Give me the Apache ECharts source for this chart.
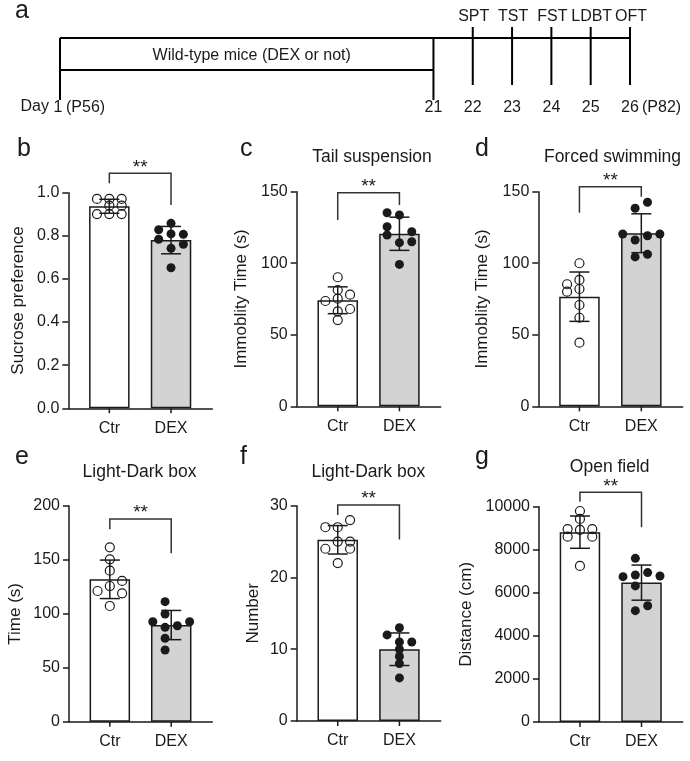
<!DOCTYPE html>
<html>
<head>
<meta charset="utf-8">
<style>
  html, body { margin: 0; padding: 0; background: #fff; }
  #chart { width: 690px; height: 761px; }
</style>
<script src="https://cdn.jsdelivr.net/npm/echarts@6/dist/echarts.min.js"></script>
</head>
<body>
<div id="chart"></div>
<script>
// ---- panel a: experimental timeline ----
const timelineDays = ['1', '21', '22', '23', '24', '25', '26'];
const timelineSlots = [0, 9.5, 10.5, 11.5, 12.5, 13.5, 14.5]; // schematic, not to scale
const testNames = ['SPT', 'TST', 'FST', 'LDBT', 'OFT'];
const treatmentLabel = 'Wild-type mice (DEX or not)';

const groups = ['Ctr', 'DEX'];

// ---- b: sucrose preference ----
const spCtr = [0.971, 0.971, 0.971, 0.94, 0.94, 0.901, 0.901, 0.901];
const spCtrCol = [-1, 0, 1, 0, 1, -1, 0, 1];
const spDex = [0.858, 0.828, 0.809, 0.807, 0.784, 0.761, 0.742, 0.652];
const spDexCol = [0, -1, 0, 1, -1, 1, 0, 0];
const spSig = [1.09, 1.044, 0.943]; // bracket top, left leg end, right leg end

// ---- c: tail suspension ----
const tstCtr = [90.2, 81.3, 78, 75.2, 73.6, 68, 66.4, 60.3];
const tstCtrCol = [0, 0, 1, 0, -1, 1, 0, 0];
const tstDex = [135.3, 133.7, 125.5, 122, 119.7, 115, 114.4, 99.2];
const tstDexCol = [-1, 0, -1, 1, -1, 1, 0, 0];
const tstSig = [149.3, 130.2, 140.7];

// ---- d: forced swimming ----
const fstCtr = [100, 88.3, 85.3, 82, 80.1, 70.8, 61.9, 44.5];
const fstCtrCol = [0, 0, -1, 0, -1, 0, 0, 0];
const fstDex = [142.6, 138.4, 120.4, 119.2, 120.4, 116.2, 106.2, 104.4];
const fstDexCol = [0.5, -0.5, -1.5, 0.5, 1.5, -0.5, 0.5, -0.5];
const fstSig = [153.5, 135.3, 146.5];

// ---- e: light-dark box, time ----
const ldTimeCtr = [161.7, 150.6, 140, 130.5, 125.8, 121.2, 119, 107.3];
const ldTimeCtrCol = [0, 0, 0, 1, 0, -1, 1, 0];
const ldTimeDex = [111.3, 99.9, 92.7, 92.7, 89, 87.5, 77.3, 66.5];
const ldTimeDexCol = [-0.5, -0.5, -1.5, 1.5, 0.5, -0.5, -0.5, -0.5];
const ldTimeSig = [188, 178.4, 156.2];

// ---- f: light-dark box, number ----
const ldNumCtr = [28, 27, 27, 25, 25, 24, 24, 22];
const ldNumCtrCol = [1, -1, 0, 0, 1, -1, 1, 0];
const ldNumDex = [13, 12, 11, 11, 10, 9, 8, 6];
const ldNumDexCol = [0, -1, 0, 1, 0, 0, 0, 0];
const ldNumSig = [30.1, 28.7, 25.3];

// ---- g: open field ----
const ofCtr = [9800, 9430, 8960, 8920, 8960, 8610, 8610, 7250];
const ofCtrCol = [0, 0, -1, 0, 1, -1, 1, 0];
const ofDex = [7600, 6750, 6830, 6940, 6780, 6320, 5170, 5400];
const ofDexCol = [-0.5, -1.5, -0.5, 0.5, 1.5, -0.5, -0.5, 0.5];
const ofSig = [10669, 10232, 9043];

const INK = '#1a1a1a';
const BAR_GRAY = '#d3d3d3';
const FONT = "'Liberation Sans', Arial, Helvetica, sans-serif";
const XMIN = -0.665, XMAX = 1.669;
const COL = 0.2; // spacing of dot columns, x units

const mean = a => a.reduce((s, v) => s + v, 0) / a.length;
const sd = a => {
  const m = mean(a);
  return Math.sqrt(a.reduce((s, v) => s + (v - m) * (v - m), 0) / (a.length - 1));
};

const panels = [
  { letter: 'b', letterPos: [17, 149], title: '', yName: 'Sucrose preference', nameGap: 41.5,
    grid: { left: 68.3, top: 192.7, width: 144, height: 215.6 }, yMax: 1, yStep: 0.2, digits: 1,
    ctr: spCtr, ctrCol: spCtrCol, dex: spDex, dexCol: spDexCol, sig: spSig },
  { letter: 'c', letterPos: [240, 149], title: 'Tail suspension', titlePos: [372, 157.5],
    yName: 'Immoblity Time (s)', nameGap: 47,
    grid: { left: 296.7, top: 191.7, width: 144, height: 214.6 }, yMax: 150, yStep: 50, digits: 0,
    ctr: tstCtr, ctrCol: tstCtrCol, dex: tstDex, dexCol: tstDexCol, sig: tstSig },
  { letter: 'd', letterPos: [475, 149], title: 'Forced swimming', titlePos: [612.5, 157.5],
    yName: 'Immoblity Time (s)', nameGap: 47,
    grid: { left: 538.3, top: 191.7, width: 144.4, height: 214.6 }, yMax: 150, yStep: 50, digits: 0,
    ctr: fstCtr, ctrCol: fstCtrCol, dex: fstDex, dexCol: fstDexCol, sig: fstSig },
  { letter: 'e', letterPos: [15, 457.5], title: 'Light-Dark box', titlePos: [139.5, 471.7],
    yName: 'Time (s)', nameGap: 45.5,
    grid: { left: 69, top: 506, width: 143.3, height: 215.7 }, yMax: 200, yStep: 50, digits: 0,
    ctr: ldTimeCtr, ctrCol: ldTimeCtrCol, dex: ldTimeDex, dexCol: ldTimeDexCol, sig: ldTimeSig },
  { letter: 'f', letterPos: [240, 457.5], title: 'Light-Dark box', titlePos: [368.3, 471.7],
    yName: 'Number', nameGap: 35.2,
    grid: { left: 296.7, top: 505.7, width: 144, height: 215.3 }, yMax: 30, yStep: 10, digits: 0,
    ctr: ldNumCtr, ctrCol: ldNumCtrCol, dex: ldNumDex, dexCol: ldNumDexCol, sig: ldNumSig },
  { letter: 'g', letterPos: [475, 457.5], title: 'Open field', titlePos: [609.7, 467],
    yName: 'Distance (cm)', nameGap: 63.8,
    grid: { left: 539, top: 506.7, width: 143.7, height: 215.3 }, yMax: 10000, yStep: 2000, digits: 0,
    ctr: ofCtr, ctrCol: ofCtrCol, dex: ofDex, dexCol: ofDexCol, sig: ofSig }
];

function textEl(x, y, text, size, align) {
  return {
    type: 'text', x: x, y: y,
    style: { text: text, fill: INK, font: size + 'px ' + FONT,
      align: align || 'center', verticalAlign: 'middle',
      textAlign: align || 'center', textVerticalAlign: 'middle' }
  };
}

function errorBarItem(params, api) {
  const x = api.value(0), m = api.value(1), s = api.value(2);
  const top = api.coord([x, m + s]);
  const bot = api.coord([x, m - s]);
  const half = 10;
  const style = { stroke: INK, lineWidth: 1.5 };
  return {
    type: 'group',
    children: [
      { type: 'line', shape: { x1: top[0], y1: top[1], x2: bot[0], y2: bot[1] }, style: style },
      { type: 'line', shape: { x1: top[0] - half, y1: top[1], x2: top[0] + half, y2: top[1] }, style: style },
      { type: 'line', shape: { x1: bot[0] - half, y1: bot[1], x2: bot[0] + half, y2: bot[1] }, style: style }
    ]
  };
}

// x-axis ticks under each group, drawn through the x scale
function groupTickItem(params, api) {
  const p = api.coord([api.value(0), 0]);
  return { type: 'line', shape: { x1: p[0], y1: p[1], x2: p[0], y2: p[1] + 5 },
    style: { stroke: INK, lineWidth: 1.5 } };
}

function bracketItem(params, api) {
  const yt = api.value(0), yl = api.value(1), yr = api.value(2);
  const tl = api.coord([0, yt]), tr = api.coord([1, yt]);
  const bl = api.coord([0, yl]), br = api.coord([1, yr]);
  return {
    type: 'group',
    children: [
      { type: 'polyline', shape: { points: [bl, tl, tr, br] },
        style: { stroke: '#333', lineWidth: 1.5, fill: null } },
      textEl((tl[0] + tr[0]) / 2, tl[1] - 6, '**', 19)
    ]
  };
}

function timelineItem(params, api) {
  const i = params.dataIndex;
  const last = timelineSlots.length - 1;
  const top = api.coord([api.value(0), 1]);
  const bot = api.coord([api.value(0), 0]);
  const x = top[0];
  const line = { stroke: '#000', lineWidth: 2 };
  const kids = [];
  const labelY = bot[1] + 37.5;
  if (i === 0) {
    const end = api.coord([timelineSlots[last], 1]);
    const boxEnd = api.coord([timelineSlots[1], 0]);
    kids.push({ type: 'line', shape: { x1: x, y1: top[1], x2: end[0], y2: top[1] }, style: line });
    kids.push({ type: 'line', shape: { x1: x, y1: bot[1], x2: boxEnd[0], y2: bot[1] }, style: line });
    kids.push(textEl((x + boxEnd[0]) / 2 + 5, (top[1] + bot[1]) / 2 + 2, treatmentLabel, 16));
    kids.push(textEl(x - 11, labelY - 1, 'Day', 16, 'right'));
    kids.push(textEl(x + 6, labelY, '(P56)', 16, 'left'));
  }
  if (i <= 1) {
    kids.push({ type: 'line', shape: { x1: x, y1: top[1], x2: x, y2: bot[1] + 30 }, style: line });
  } else {
    kids.push({ type: 'line', shape: { x1: x, y1: top[1] - 11, x2: x, y2: top[1] + 47 }, style: line });
    kids.push(textEl(x + 1, top[1] - 21, testNames[i - 2], 16));
  }
  if (i === last) {
    kids.push(textEl(x + 12, labelY, '(P82)', 16, 'left'));
  }
  kids.push(textEl(x - (i === 0 ? 2 : 0), labelY, timelineDays[i], 16));
  return { type: 'group', children: kids };
}

const grids = [], xAxes = [], yAxes = [], series = [], graphics = [];

panels.forEach((p, i) => {
  grids.push(Object.assign({ containLabel: false, outerBoundsMode: 'none' }, p.grid));
  xAxes.push({
    gridIndex: i, type: 'value', min: XMIN, max: XMAX,
    axisLine: { show: true, onZero: false, lineStyle: { color: INK, width: 1.5 } },
    axisTick: { show: false },
    axisLabel: { customValues: [0, 1], formatter: v => groups[Math.round(v)],
      color: INK, fontSize: 16, fontFamily: FONT, margin: 12 },
    splitLine: { show: false }
  });
  yAxes.push({
    gridIndex: i, type: 'value', min: 0, max: p.yMax, interval: p.yStep,
    name: p.yName, nameLocation: 'middle', nameGap: p.nameGap,
    nameTextStyle: { fontSize: 17, color: INK, fontFamily: FONT },
    axisLine: { show: true, onZero: false, lineStyle: { color: INK, width: 1.5 } },
    axisTick: { show: true, length: 6, lineStyle: { color: INK, width: 1.5 } },
    axisLabel: { formatter: v => v.toFixed(p.digits), color: INK, fontSize: 16, fontFamily: FONT, margin: 9 },
    splitLine: { show: false }
  });

  const axes = { xAxisIndex: i, yAxisIndex: i };
  series.push(Object.assign({
    type: 'bar', barWidth: 40.5, z: 2,
    itemStyle: { borderColor: INK, borderWidth: 1.5 },
    data: [
      { value: [0, mean(p.ctr)], itemStyle: { color: '#fff' } },
      { value: [1, mean(p.dex)], itemStyle: { color: BAR_GRAY } }
    ]
  }, axes));
  series.push(Object.assign({
    type: 'custom', renderItem: groupTickItem, z: 3, clip: false,
    data: [[0, 0], [1, 0]]
  }, axes));
  series.push(Object.assign({
    type: 'custom', renderItem: errorBarItem, z: 3, clip: false,
    data: [[0, mean(p.ctr), sd(p.ctr)], [1, mean(p.dex), sd(p.dex)]]
  }, axes));
  series.push(Object.assign({
    type: 'scatter', symbol: 'circle', symbolSize: 9, z: 4, clip: false,
    itemStyle: { color: 'rgba(255,255,255,0)', borderColor: INK, borderWidth: 1.2, opacity: 1 },
    data: p.ctr.map((v, k) => [p.ctrCol[k] * COL, v])
  }, axes));
  series.push(Object.assign({
    type: 'scatter', symbol: 'circle', symbolSize: 9, z: 4, clip: false,
    itemStyle: { color: INK, opacity: 1 },
    data: p.dex.map((v, k) => [1 + p.dexCol[k] * COL, v])
  }, axes));
  series.push(Object.assign({
    type: 'custom', renderItem: bracketItem, z: 5, clip: false,
    data: [p.sig]
  }, axes));

  graphics.push(textEl(p.letterPos[0], p.letterPos[1], p.letter, 25, 'left'));
  if (p.title) graphics.push(textEl(p.titlePos[0], p.titlePos[1], p.title, 17.5));
});

// timeline grid
const ti = panels.length;
grids.push({ left: 60, top: 38, width: 570, height: 32, containLabel: false, outerBoundsMode: 'none' });
xAxes.push({ gridIndex: ti, type: 'value', min: 0, max: timelineSlots[timelineSlots.length - 1], show: false });
yAxes.push({ gridIndex: ti, type: 'value', min: 0, max: 1, show: false });
series.push({
  type: 'custom', xAxisIndex: ti, yAxisIndex: ti, clip: false,
  renderItem: timelineItem,
  data: timelineSlots.map((s, k) => [s, k])
});
graphics.push(textEl(15, 11.5, 'a', 25, 'left'));

const chart = echarts.init(document.getElementById('chart'), null, { renderer: 'canvas' });
chart.setOption({
  animation: false,
  backgroundColor: '#fff',
  textStyle: { fontFamily: FONT },
  grid: grids,
  xAxis: xAxes,
  yAxis: yAxes,
  series: series,
  graphic: graphics
});
</script>
</body>
</html>
